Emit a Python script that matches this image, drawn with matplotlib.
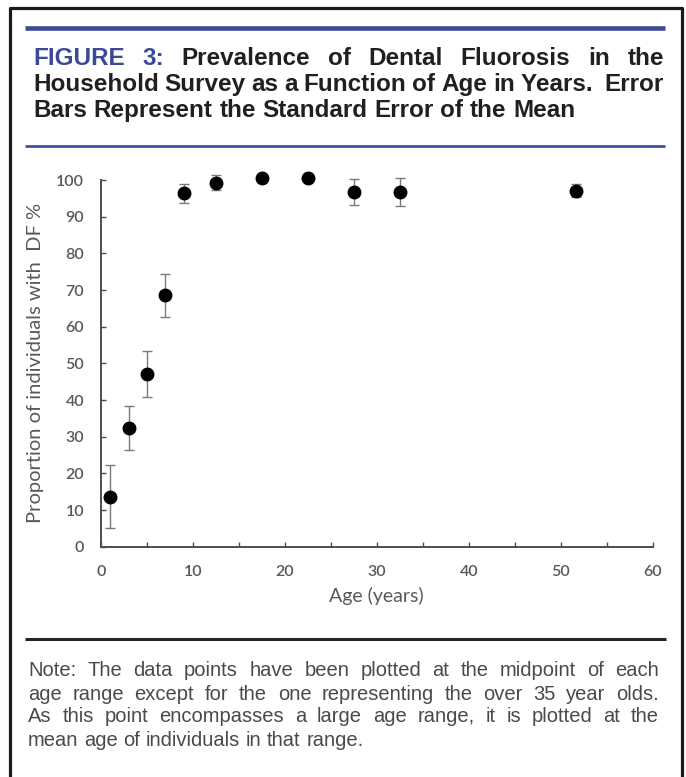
import matplotlib
matplotlib.use("Agg")
import matplotlib.pyplot as plt
from matplotlib.lines import Line2D
from matplotlib.ticker import MultipleLocator

# values (age midpoints, % with dental fluorosis, SEM)
age = [1, 3, 5, 7, 9, 12.5, 17.5, 22.5, 27.5, 32.5, 51.6]
prevalence = [13.6, 32.3, 47.2, 68.6, 96.4, 99.3, 100.5, 100.5, 96.8, 96.8, 97.1]
sem = [8.6, 6.0, 6.3, 5.85, 2.6, 2.0, 0.4, 0.4, 3.6, 3.8, 1.8]

x_ticks = [0, 10, 20, 30, 40, 50, 60]
y_ticks = [0, 10, 20, 30, 40, 50, 60, 70, 80, 90, 100]

title_lines = [
    "FIGURE 3: Prevalence of Dental Fluorosis in the",
    "Household Survey as a Function of Age in Years.  Error",
    "Bars Represent the Standard Error of the Mean",
]
note_lines = [
    "Note: The data points have been plotted at the midpoint of each",
    "age range except for the one representing the over 35 year olds.",
    "As this point encompasses a large age range, it is plotted at the",
    "mean age of individuals in that range.",
]

W, H = 686, 777
BLUE = "#3b4996"
GREY = "#595959"
narrow = ["Liberation Sans Narrow", "Liberation Sans", "DejaVu Sans"]
calibri = ["Lato", "Open Sans", "DejaVu Sans"]


def fx(x):
    return x / W


def fy(y):
    return 1 - y / H


fig = plt.figure(figsize=(W / 100, H / 100), dpi=100)
renderer = fig.canvas.get_renderer()


def hline(y, x0, x1, color, lw):
    fig.add_artist(Line2D([fx(x0), fx(x1)], [fy(y), fy(y)], color=color,
                          lw=lw, transform=fig.transFigure, solid_capstyle="butt"))


def text_line(line, y, x0, x1, justify, colors=None, **kw):
    words = line.replace(".  ", ".\u00a0 ").split(" ")
    words = [w.replace("\u00a0", " ") for w in words if w]
    texts = []
    for i, w in enumerate(words):
        c = colors[i] if colors and i < len(colors) else kw.get("color", "black")
        args = dict(kw)
        args["color"] = c
        texts.append(fig.text(0, fy(y), w, va="baseline", ha="left", **args))
    widths = [t.get_window_extent(renderer).width for t in texts]
    plain = {k: v for k, v in kw.items() if k != "color"}
    s1 = fig.text(0, 0, "a a", **plain)
    s2 = fig.text(0, 0, "aa", **plain)
    sp = s1.get_window_extent(renderer).width - s2.get_window_extent(renderer).width
    s1.remove()
    s2.remove()
    if justify and len(words) > 1:
        gap = (x1 - x0 - sum(widths)) / (len(words) - 1)
    else:
        gap = sp
    x = x0
    for t, w in zip(texts, widths):
        t.set_x(fx(x))
        x += w + gap


# frame and rules
fig.add_artist(Line2D([fx(10), fx(10), fx(681.5), fx(681.5)],
                      [fy(790), fy(7.7), fy(7.7), fy(790)], color="#1a1a1a",
                      lw=2.3, transform=fig.transFigure))
hline(27.5, 25, 665, BLUE, 3.3)
hline(145.5, 25, 665, BLUE, 1.9)
hline(638.5, 25, 666, "#262626", 2.2)

# title
tkw = dict(fontsize=17.5, fontweight="bold", family=narrow, color="#231f20")
bases = [65, 91, 117]
for i, line in enumerate(title_lines):
    cols = [BLUE, BLUE] if i == 0 else None
    text_line(line, bases[i], 33, 664, justify=(i < 2), colors=cols, **tkw)

# note
nkw = dict(fontsize=14.5, fontweight="normal", family=narrow, color="#4a4a4a")
nbases = [676, 699.5, 722.5, 745.5]
for i, line in enumerate(note_lines):
    text_line(line, nbases[i], 28, 659, justify=(i < 3), **nkw)

# chart
ax = fig.add_axes([fx(101), fy(546.7), fx(653) - fx(101), fy(180) - fy(546.7)])
ax.errorbar(age, prevalence, yerr=sem, fmt="none", ecolor="#7a7a7a",
            elinewidth=1.0, capsize=3.6, capthick=1.0, clip_on=False, zorder=2)
ax.plot(age, prevalence, "o", color="black", markersize=9, clip_on=False, zorder=3)

ax.set_xlim(0, 60)
ax.set_ylim(0, 100)
ax.set_xticks(x_ticks)
ax.set_yticks(y_ticks)
ax.xaxis.set_minor_locator(MultipleLocator(5))
for s in ["top", "right"]:
    ax.spines[s].set_visible(False)
for s in ["left", "bottom"]:
    ax.spines[s].set_color("#4d4d4d")
    ax.spines[s].set_linewidth(1.4)
ax.tick_params(which="both", direction="in", length=3.6, width=1.0, color="#4d4d4d")
ax.tick_params(axis="x", which="major", pad=13, labelsize=11.5, labelcolor=GREY)
ax.tick_params(axis="y", which="major", pad=12, labelsize=11.5, labelcolor=GREY)
for lab in ax.get_xticklabels() + ax.get_yticklabels():
    lab.set_family(calibri)
    lab.set_fontweight("semibold")

fig.text(fx(376), fy(596), "Age (years)", ha="center", va="center",
         fontsize=14, color=GREY, family=calibri)
fig.text(fx(36), fy(363), "Proportion of individuals with  DF %", ha="center",
         va="center", rotation=90, fontsize=14.5, color=GREY, family=calibri)

fig.savefig("out.png", dpi=100)
